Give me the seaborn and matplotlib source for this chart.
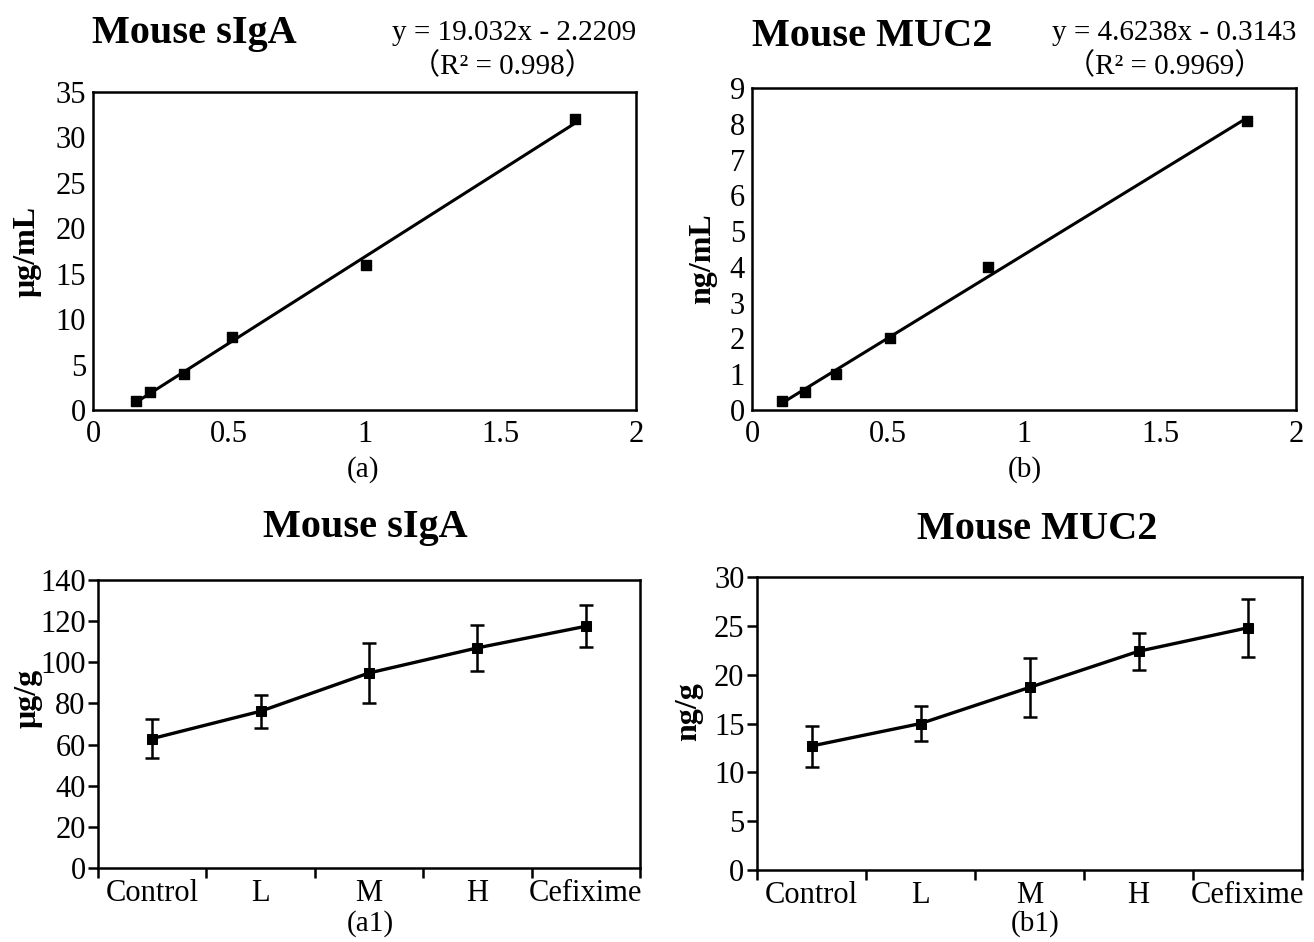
import numpy as np
import pandas as pd
import matplotlib
matplotlib.use('Agg')
import matplotlib.pyplot as plt
import seaborn as sns

# =========================
#  DATA
# =========================

# standard curves (OD vs concentration)
siga_od = [0.160, 0.209, 0.335, 0.513, 1.007, 1.776]
siga_conc = [1.0, 2.0, 4.0, 8.0, 16.0, 32.0]

muc2_od = [0.110, 0.196, 0.307, 0.507, 0.866, 1.821]
muc2_conc = [0.25, 0.5, 1.0, 2.0, 4.0, 8.07]

siga_eq = 'y = 19.032x - 2.2209'
siga_r2 = '（R² = 0.998）'
muc2_eq = 'y = 4.6238x - 0.3143'
muc2_r2 = '（R² = 0.9969）'

# group results
groups = ['Control', 'L', 'M', 'H', 'Cefixime']
siga_mean = [62.9, 76.2, 94.8, 107.0, 117.5]
siga_err = [9.3, 8.1, 14.5, 11.1, 10.2]
muc2_mean = [12.7, 15.0, 18.7, 22.4, 24.8]
muc2_err = [2.1, 1.8, 3.0, 1.9, 3.0]

# =========================
#  STYLE
# =========================

sns.set_theme(style='white')
plt.rcParams['font.family'] = ['Liberation Serif', 'Noto Sans CJK SC', 'DejaVu Sans']
plt.rcParams['text.color'] = 'black'
plt.rcParams['axes.labelcolor'] = 'black'
plt.rcParams['xtick.color'] = 'black'
plt.rcParams['ytick.color'] = 'black'

TICK_FS = 22
TITLE_FS = 29
LABEL_FS = 23
EQ_FS = 21
PANEL_FS = 21


def style_box(ax):
    for sp in ax.spines.values():
        sp.set_visible(True)
        sp.set_color('black')
        sp.set_linewidth(1.8)


def plot_standard(ax, x, y, ylabel, ylim, yticks, label_xy):
    df = pd.DataFrame({'od': x, 'conc': y})
    sns.regplot(data=df, x='od', y='conc', ax=ax, ci=None, marker='s',
                scatter_kws={'s': 48, 'color': 'black', 'alpha': 1, 'zorder': 3},
                line_kws={'color': 'black', 'lw': 2.2})
    ax.set_xlim(0, 2)
    ax.set_ylim(*ylim)
    ax.set_xticks([0, 0.5, 1, 1.5, 2])
    ax.set_xticklabels(['0', '0.5', '1', '1.5', '2'])
    ax.set_yticks(yticks)
    ax.tick_params(axis='both', direction='in', length=6, width=1,
                   color='#888888', labelcolor='black', labelsize=TICK_FS, pad=5)
    ax.tick_params(axis='x', pad=7)
    ax.set_xlabel('')
    ax.set_ylabel(ylabel, fontsize=LABEL_FS, fontweight='bold')
    ax.yaxis.set_label_coords(*label_xy)
    style_box(ax)


def plot_groups(ax, mean, err, ylabel, ylim, yticks, label_xy):
    xs = np.arange(len(groups))
    df = pd.DataFrame({'x': xs, 'y': mean})
    sns.lineplot(data=df, x='x', y='y', ax=ax, color='black', lw=2.4,
                 marker='s', markersize=7, markeredgecolor='black')
    ax.errorbar(xs, mean, yerr=err, fmt='none', ecolor='black',
                elinewidth=1.8, capsize=5, capthick=1.8)
    ax.set_xlim(-0.5, len(groups) - 0.5)
    ax.set_ylim(*ylim)
    ax.set_yticks(yticks)
    ax.set_xticks(xs)
    ax.set_xticklabels(groups)
    ax.set_xticks(np.arange(len(groups) + 1) - 0.5, minor=True)
    ax.tick_params(axis='x', which='major', length=0, labelsize=TICK_FS, pad=8)
    ax.tick_params(axis='x', which='minor', direction='out', length=7,
                   width=1.8, color='black', bottom=True)
    ax.tick_params(axis='y', direction='out', length=7, width=1.8,
                   color='black', labelsize=TICK_FS, left=True, pad=2)
    ax.set_xlabel('')
    ax.set_ylabel(ylabel, fontsize=LABEL_FS, fontweight='bold')
    ax.yaxis.set_label_coords(*label_xy)
    style_box(ax)


fig = plt.figure(figsize=(13.14, 9.42), dpi=100)

ax_a = fig.add_axes([0.0708, 0.5648, 0.4132, 0.3376])
ax_b = fig.add_axes([0.5723, 0.5648, 0.4140, 0.3418])
ax_a1 = fig.add_axes([0.0746, 0.0786, 0.4125, 0.3057])
ax_b1 = fig.add_axes([0.5761, 0.0764, 0.4148, 0.3110])

plot_standard(ax_a, siga_od, siga_conc, 'μg/mL', (0, 35), np.arange(0, 36, 5), (-0.094, 0.50))
plot_standard(ax_b, muc2_od, muc2_conc, 'ng/mL', (0, 9), np.arange(0, 10, 1), (-0.065, 0.47))
plot_groups(ax_a1, siga_mean, siga_err, 'μg/g', (0, 140), np.arange(0, 141, 20), (-0.103, 0.59))
plot_groups(ax_b1, muc2_mean, muc2_err, 'ng/g', (0, 30), np.arange(0, 31, 5), (-0.098, 0.54))

# titles
fig.text(92 / 1314, 1 - 43 / 942, 'Mouse sIgA', fontsize=TITLE_FS,
         fontweight='bold', ha='left', va='baseline')
fig.text(752 / 1314, 1 - 46 / 942, 'Mouse MUC2', fontsize=TITLE_FS,
         fontweight='bold', ha='left', va='baseline')
fig.text(365 / 1314, 1 - 537 / 942, 'Mouse sIgA', fontsize=TITLE_FS,
         fontweight='bold', ha='center', va='baseline')
fig.text(1037 / 1314, 1 - 539 / 942, 'Mouse MUC2', fontsize=TITLE_FS,
         fontweight='bold', ha='center', va='baseline')

# fit equations
fig.text(636 / 1314, 1 - 40 / 942, siga_eq, fontsize=EQ_FS, ha='right', va='baseline')
fig.text(502 / 1314, 1 - 74 / 942, siga_r2, fontsize=EQ_FS, ha='center', va='baseline')
fig.text(1296 / 1314, 1 - 40 / 942, muc2_eq, fontsize=EQ_FS, ha='right', va='baseline')
fig.text(1165 / 1314, 1 - 74 / 942, muc2_r2, fontsize=EQ_FS, ha='center', va='baseline')

# panel labels
for x, y, s in [(363, 470, '(a)'), (1025, 470, '(b)'),
                (370, 924, '(a1)'), (1035, 924, '(b1)')]:
    fig.text(x / 1314, 1 - y / 942, s, fontsize=PANEL_FS, ha='center', va='center')

fig.savefig('out.png', dpi=100, facecolor='white')
